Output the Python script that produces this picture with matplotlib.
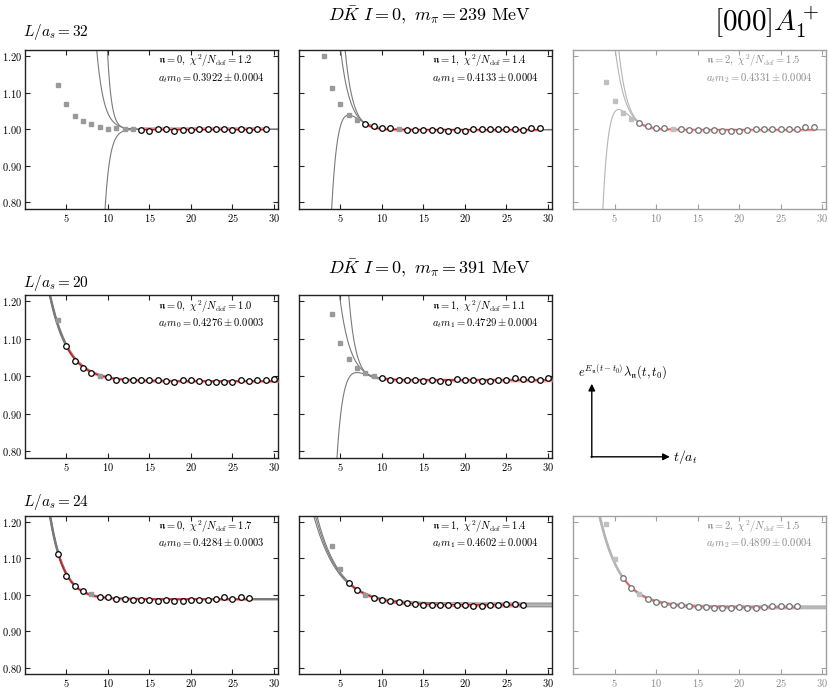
import numpy as np
import matplotlib.pyplot as plt

plt.rcParams['font.family'] = 'serif'
plt.rcParams['font.serif'] = ['cmr10', 'DejaVu Serif']
plt.rcParams['mathtext.fontset'] = 'cm'
plt.rcParams['axes.unicode_minus'] = False

# ---- data: (t, value) per panel ----
# L/a_s = 32, m_pi = 239 MeV
t_32_0_out = [4, 5, 6, 7, 8, 9, 10, 11, 12, 13]
y_32_0_out = [1.120, 1.068, 1.037, 1.023, 1.015, 1.005, 1.000, 1.003, 1.000, 1.002]
t_32_0_fit = [14, 15, 16, 17, 18, 19, 20, 21, 22, 23, 24, 25, 26, 27, 28, 29]
y_32_0_fit = [0.997, 0.995, 1.001, 1.002, 0.995, 0.999, 0.997, 1.000, 1.002, 1.002,
              1.000, 0.999, 1.002, 0.997, 1.000, 1.000]

t_32_1_out = [3, 4, 5, 6, 7, 12]
y_32_1_out = [1.200, 1.114, 1.068, 1.040, 1.025, 1.000]
t_32_1_fit = [8, 9, 10, 11, 13, 14, 15, 16, 17, 18, 19, 20, 21, 22, 23, 24, 25, 26, 27, 28, 29]
y_32_1_fit = [1.015, 1.008, 1.003, 1.004, 0.999, 0.998, 0.998, 0.999, 0.998, 0.996, 0.997,
              0.996, 1.000, 1.000, 1.002, 1.000, 1.000, 1.001, 0.999, 1.003, 1.003]

t_32_2_out = [4, 5, 6, 7, 12]
y_32_2_out = [1.129, 1.076, 1.045, 1.029, 1.001]
t_32_2_fit = [8, 9, 10, 11, 13, 14, 15, 16, 17, 18, 19, 20, 21, 22, 23, 24, 25, 26, 27, 28, 29]
y_32_2_fit = [1.018, 1.008, 1.004, 1.004, 1.001, 0.998, 0.998, 0.998, 0.998, 0.994, 0.996,
              0.995, 0.998, 1.000, 1.002, 1.000, 1.000, 1.001, 1.001, 1.005, 1.005]

# L/a_s = 20, m_pi = 391 MeV
t_20_0_out = [4, 9]
y_20_0_out = [1.150, 1.000]
t_20_0_fit = [5, 6, 7, 8, 10, 11, 12, 13, 14, 15, 16, 17, 18, 19, 20, 21, 22, 23, 24,
              25, 26, 27, 28, 29, 30]
y_20_0_fit = [1.080, 1.042, 1.022, 1.008, 0.997, 0.991, 0.991, 0.991, 0.991, 0.991, 0.991,
              0.987, 0.985, 0.989, 0.989, 0.987, 0.986, 0.984, 0.986, 0.986, 0.991, 0.988,
              0.989, 0.989, 0.994]

t_20_1_out = [4, 5, 6, 7, 8, 9]
y_20_1_out = [1.166, 1.088, 1.046, 1.023, 1.010, 1.001]
t_20_1_fit = [10, 11, 12, 13, 14, 15, 16, 17, 18, 19, 20, 21, 22, 23, 24, 25, 26, 27, 28, 29, 30]
y_20_1_fit = [0.995, 0.991, 0.991, 0.991, 0.990, 0.988, 0.989, 0.987, 0.986, 0.992, 0.990,
              0.989, 0.987, 0.988, 0.991, 0.991, 0.995, 0.993, 0.992, 0.991, 0.995]

# L/a_s = 24, m_pi = 391 MeV
t_24_0_out = [8]
y_24_0_out = [1.001]
t_24_0_fit = [4, 5, 6, 7, 9, 10, 11, 12, 13, 14, 15, 16, 17, 18, 19, 20, 21, 22, 23, 24,
              25, 26, 27]
y_24_0_fit = [1.113, 1.052, 1.025, 1.010, 0.995, 0.993, 0.988, 0.989, 0.987, 0.987, 0.985,
              0.984, 0.985, 0.984, 0.984, 0.986, 0.985, 0.985, 0.988, 0.993, 0.988, 0.994, 0.992]

t_24_1_out = [4, 5, 8]
y_24_1_out = [1.134, 1.070, 1.000]
t_24_1_fit = [6, 7, 9, 10, 11, 12, 13, 14, 15, 16, 17, 18, 19, 20, 21, 22, 23, 24, 25, 26, 27]
y_24_1_fit = [1.031, 1.013, 0.991, 0.986, 0.982, 0.980, 0.977, 0.976, 0.973, 0.972, 0.972,
              0.972, 0.972, 0.972, 0.969, 0.969, 0.972, 0.973, 0.974, 0.974, 0.973]

t_24_2_out = [4, 5, 8]
y_24_2_out = [1.194, 1.098, 1.001]
t_24_2_fit = [6, 7, 9, 10, 11, 12, 13, 14, 15, 16, 17, 18, 19, 20, 21, 22, 23, 24, 25, 26, 27]
y_24_2_fit = [1.047, 1.019, 0.988, 0.981, 0.974, 0.973, 0.971, 0.970, 0.967, 0.966, 0.964,
              0.964, 0.965, 0.966, 0.963, 0.963, 0.966, 0.968, 0.969, 0.970, 0.969]

# fit curves: (plateau, a1, d1, a2, d2, t0)  ->  p + a1 e^{-d1(t-t0)} - a2 e^{-d2(t-t0)}
curves_32_0 = [(1.000, 0.004, 1.19, 0, 0, 12), (1.000, 0.003, 2.07, 0, 0, 12),
               (1.000, 0, 0, 0.004, 1.7, 12)]
curves_32_1 = [(0.999, 0.016, 0.876, 0, 0, 8), (0.999, 0.016, 1.07, 0, 0, 8),
               (0.999, 0.20, 0.8, 0.16, 1.0, 6)]
curves_32_2 = [(0.999, 0.019, 0.84, 0, 0, 8), (0.999, 0.019, 0.98, 0, 0, 8),
               (0.999, 0.275, 0.8, 0.22, 1.0, 5.5)]
curves_20_0 = [(0.987, 0.093, 0.45, 0, 0, 5), (0.987, 0.096, 0.44, 0, 0, 5)]
curves_20_1 = [(0.990, 0.02, 0.78, 0, 0, 8), (0.990, 0.02, 1.21, 0, 0, 8),
               (0.990, 0.10, 0.8, 0.08, 1.0, 7)]
curves_24_0 = [(0.988, 0.125, 0.61, 0, 0, 4), (0.988, 0.128, 0.60, 0, 0, 4)]
curves_24_1 = [(0.967, 0.062, 0.33, 0, 0, 6), (0.972, 0.060, 0.35, 0, 0, 6),
               (0.977, 0.058, 0.37, 0, 0, 6)]
curves_24_2 = [(0.963, 0.084, 0.39, 0, 0, 6), (0.968, 0.080, 0.41, 0, 0, 6)]

# red fit bands: curve, t range, half width
red_32_0 = ((1.000, 0, 0, 0, 0, 12), 14, 29, 0.005)
red_32_1 = ((0.999, 0.016, 0.95, 0, 0, 8), 8, 29, 0.004)
red_32_2 = ((0.999, 0.019, 0.90, 0, 0, 8), 8, 29, 0.004)
red_20_0 = ((0.987, 0.093, 0.45, 0, 0, 5), 5, 30.5, 0.004)
red_20_1 = ((0.990, 0.005, 0.90, 0, 0, 10), 10, 30.5, 0.005)
red_24_0 = ((0.988, 0.125, 0.61, 0, 0, 4), 4, 27, 0.004)
red_24_1 = ((0.972, 0.060, 0.35, 0, 0, 6), 6, 27, 0.004)
red_24_2 = ((0.966, 0.082, 0.40, 0, 0, 6), 6, 27, 0.004)

labels_32 = [('0', '1.2', 'a_t m_0 = 0.3922 \\pm 0.0004'),
             ('1', '1.4', 'a_t m_1 = 0.4133 \\pm 0.0004'),
             ('2', '1.5', 'a_t m_2 = 0.4331 \\pm 0.0004')]
labels_20 = [('0', '1.0', 'a_t m_0 = 0.4276 \\pm 0.0003'),
             ('1', '1.1', 'a_t m_1 = 0.4729 \\pm 0.0004')]
labels_24 = [('0', '1.7', 'a_t m_0 = 0.4284 \\pm 0.0003'),
             ('1', '1.4', 'a_t m_1 = 0.4602 \\pm 0.0004'),
             ('2', '1.5', 'a_t m_2 = 0.4899 \\pm 0.0004')]

yticks = [0.80, 0.90, 1.00, 1.10, 1.20]
xticks = [5, 10, 15, 20, 25, 30]


def model(t, c):
    p, a1, d1, a2, d2, t0 = c
    return p + a1 * np.exp(-d1 * (t - t0)) - a2 * np.exp(-d2 * (t - t0))


def draw(ax, t_out, y_out, t_fit, y_fit, curves, red, lab, first_col, faded, thick=False):
    edge = '#a0a0a0' if faded else '#222222'
    txt = '#8a8a8a' if faded else 'black'
    tt = np.linspace(0, 30.5, 600)
    for c in curves:
        ax.plot(tt, model(tt, c), color='#b5b5b5' if faded else '#7a7a7a',
                lw=1.6 if thick else 0.8, zorder=2)
    c, lo, hi, w = red
    tr = np.linspace(lo, hi, 300)
    yr = model(tr, c)
    ax.fill_between(tr, yr - w, yr + w, color='#f2a0a0', lw=0, alpha=0.6 if faded else 0.9, zorder=3)
    ax.plot(tr, yr, color='#e06060' if faded else '#cc1010', lw=1.0, zorder=3)
    ax.errorbar(t_out, y_out, yerr=0.004, fmt='s', ms=3, color='#c0c0c0' if faded else '#999999',
                elinewidth=0.8, capsize=0, zorder=4)
    ax.plot(t_fit, y_fit, 'o', mfc='white', mec='#707070' if faded else 'black',
            ms=4.0, mew=0.9, zorder=5)
    ax.set_xlim(0, 30.5)
    ax.set_ylim(0.782, 1.217)
    ax.set_xticks(xticks)
    ax.set_xticklabels(['$%d$' % v for v in xticks])
    ax.set_yticks(yticks)
    if first_col:
        ax.set_yticklabels(['$%.2f$' % v for v in yticks])
    else:
        ax.set_yticklabels([])
    ax.tick_params(direction='in', top=True, right=True, length=3.5, width=0.8,
                   labelsize=7.5, color=edge, labelcolor=txt, pad=2)
    for s in ax.spines.values():
        s.set_color(edge)
        s.set_linewidth(1.0)
    n, chi, mass = lab
    ax.text(0.525, 0.93, r'$\mathfrak{n}=%s,\ \chi^2/N_{\rm dof}=%s$' % (n, chi),
            transform=ax.transAxes, fontsize=7.6, color=txt, va='center')
    ax.text(0.525, 0.825, r'$%s$' % mass, transform=ax.transAxes, fontsize=7.6,
            color=txt, va='center')


fig = plt.figure(figsize=(8.3, 6.89), dpi=100)
lefts = [0.0301, 0.3602, 0.6904]
w = 0.305
rows = [(0.6967, 0.2308), (0.3353, 0.2366), (0.0215, 0.2300)]

ax = fig.add_axes([lefts[0], rows[0][0], w, rows[0][1]])
draw(ax, t_32_0_out, y_32_0_out, t_32_0_fit, y_32_0_fit, curves_32_0, red_32_0, labels_32[0], True, False)
ax = fig.add_axes([lefts[1], rows[0][0], w, rows[0][1]])
draw(ax, t_32_1_out, y_32_1_out, t_32_1_fit, y_32_1_fit, curves_32_1, red_32_1, labels_32[1], False, False)
ax = fig.add_axes([lefts[2], rows[0][0], w, rows[0][1]])
draw(ax, t_32_2_out, y_32_2_out, t_32_2_fit, y_32_2_fit, curves_32_2, red_32_2, labels_32[2], False, True)

ax = fig.add_axes([lefts[0], rows[1][0], w, rows[1][1]])
draw(ax, t_20_0_out, y_20_0_out, t_20_0_fit, y_20_0_fit, curves_20_0, red_20_0, labels_20[0], True, False, thick=True)
ax = fig.add_axes([lefts[1], rows[1][0], w, rows[1][1]])
draw(ax, t_20_1_out, y_20_1_out, t_20_1_fit, y_20_1_fit, curves_20_1, red_20_1, labels_20[1], False, False)

ax = fig.add_axes([lefts[0], rows[2][0], w, rows[2][1]])
draw(ax, t_24_0_out, y_24_0_out, t_24_0_fit, y_24_0_fit, curves_24_0, red_24_0, labels_24[0], True, False, thick=True)
ax = fig.add_axes([lefts[1], rows[2][0], w, rows[2][1]])
draw(ax, t_24_1_out, y_24_1_out, t_24_1_fit, y_24_1_fit, curves_24_1, red_24_1, labels_24[1], False, False)
ax = fig.add_axes([lefts[2], rows[2][0], w, rows[2][1]])
draw(ax, t_24_2_out, y_24_2_out, t_24_2_fit, y_24_2_fit, curves_24_2, red_24_2, labels_24[2], False, True, thick=True)

# titles and labels
fig.text(0.518, 0.978, r'$D\bar{K}\ I=0,\ m_\pi=239\ \mathrm{MeV}$', ha='center', va='center', fontsize=13)
fig.text(0.518, 0.611, r'$D\bar{K}\ I=0,\ m_\pi=391\ \mathrm{MeV}$', ha='center', va='center', fontsize=13)
fig.text(0.028, 0.954, r'$L/a_s=32$', va='center', fontsize=11)
fig.text(0.028, 0.589, r'$L/a_s=20$', va='center', fontsize=11)
fig.text(0.028, 0.271, r'$L/a_s=24$', va='center', fontsize=11)
fig.text(0.86, 0.968, r'$[000]A_1^+$', va='center', fontsize=21)

# axis-meaning key
plt.annotate('', xy=(0.713, 0.443), xytext=(0.713, 0.336), xycoords='figure fraction',
             arrowprops=dict(arrowstyle='-|>', color='k', lw=1.0, shrinkA=0, shrinkB=0,
                             mutation_scale=10))
plt.annotate('', xy=(0.807, 0.337), xytext=(0.712, 0.337), xycoords='figure fraction',
             arrowprops=dict(arrowstyle='-|>', color='k', lw=1.0, shrinkA=0, shrinkB=0,
                             mutation_scale=10))
fig.text(0.696, 0.459, r'$e^{E_\mathfrak{n}(t-t_0)}\lambda_\mathfrak{n}(t,t_0)$', va='center', fontsize=9)
fig.text(0.811, 0.337, r'$t/a_t$', va='center', fontsize=10)

fig.savefig('out.png', dpi=100)
